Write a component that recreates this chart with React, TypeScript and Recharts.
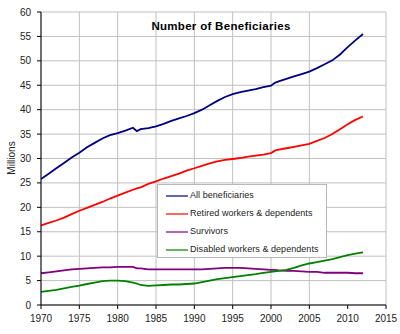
import React from 'react';
import { LineChart, Line, XAxis, YAxis, CartesianGrid, Legend } from 'recharts';

const years = [1970, 1971, 1972, 1973, 1974, 1975, 1976, 1977, 1978, 1979, 1980, 1981, 1982, 1982.5, 1983, 1984, 1985, 1986, 1987, 1988, 1989, 1990, 1991, 1992, 1993, 1994, 1995, 1996, 1997, 1998, 1999, 2000, 2000.5, 2001, 2002, 2003, 2004, 2005, 2006, 2007, 2008, 2009, 2010, 2011, 2012];
const allBeneficiaries = [25.8, 26.9, 28.0, 29.1, 30.2, 31.2, 32.3, 33.2, 34.1, 34.8, 35.2, 35.7, 36.3, 35.6, 36.0, 36.2, 36.6, 37.1, 37.7, 38.2, 38.7, 39.3, 40.0, 40.9, 41.8, 42.6, 43.2, 43.6, 43.9, 44.2, 44.6, 44.9, 45.5, 45.8, 46.3, 46.8, 47.3, 47.8, 48.5, 49.3, 50.1, 51.3, 52.8, 54.2, 55.5];
const retired = [16.3, 16.8, 17.3, 17.9, 18.6, 19.3, 19.9, 20.5, 21.1, 21.8, 22.4, 23.0, 23.6, 23.9, 24.1, 24.8, 25.3, 25.9, 26.4, 26.9, 27.5, 28.0, 28.5, 29.0, 29.4, 29.7, 29.9, 30.1, 30.4, 30.6, 30.8, 31.1, 31.6, 31.8, 32.1, 32.4, 32.7, 33.0, 33.6, 34.2, 35.0, 36.0, 37.0, 37.9, 38.6];
const survivors = [6.5, 6.7, 6.9, 7.1, 7.3, 7.4, 7.5, 7.6, 7.7, 7.7, 7.8, 7.8, 7.8, 7.5, 7.5, 7.3, 7.3, 7.3, 7.3, 7.3, 7.3, 7.3, 7.3, 7.4, 7.5, 7.6, 7.6, 7.6, 7.5, 7.4, 7.3, 7.2, 7.2, 7.1, 7.0, 7.0, 6.9, 6.8, 6.8, 6.6, 6.6, 6.6, 6.6, 6.5, 6.5];
const disabled = [2.7, 2.9, 3.1, 3.4, 3.7, 3.95, 4.3, 4.6, 4.9, 5.0, 5.0, 4.9, 4.6, 4.4, 4.1, 3.9, 4.0, 4.1, 4.2, 4.2, 4.3, 4.4, 4.7, 5.0, 5.3, 5.5, 5.7, 5.9, 6.1, 6.3, 6.6, 6.8, 6.9, 7.0, 7.2, 7.6, 8.1, 8.5, 8.8, 9.1, 9.4, 9.8, 10.2, 10.5, 10.8];

const xTicks = [1970, 1975, 1980, 1985, 1990, 1995, 2000, 2005, 2010, 2015];
const yTicks = [0, 5, 10, 15, 20, 25, 30, 35, 40, 45, 50, 55, 60];

const title = 'Number of Beneficiaries';
const yLabel = 'Millions';

const seriesNames = ['All beneficiaries', 'Retired workers & dependents', 'Survivors', 'Disabled workers & dependents'];
const seriesKeys = ['all', 'retired', 'survivors', 'disabled'];
const seriesColors = ['#000080', '#ff0000', '#800080', '#008000'];

const data = years.map((y, i) => ({
  year: y,
  all: allBeneficiaries[i],
  retired: retired[i],
  survivors: survivors[i],
  disabled: disabled[i],
}));

const FONT = '"Liberation Sans", Arial, sans-serif';

const LegendBox = () => (
  <div
    style={{
      width: 170,
      height: 74,
      boxSizing: 'border-box',
      border: '1px solid #b8b8b8',
      background: '#fff',
      fontFamily: FONT,
      fontSize: 9,
      color: '#222',
      position: 'relative',
    }}
  >
    {seriesNames.map((n, i) => (
      <div key={n} style={{ position: 'absolute', left: 0, top: 1 + i * 18.1, height: 18, width: '100%' }}>
        <svg width={24} height={4} style={{ position: 'absolute', left: 8, top: 8 }}>
          <line x1={0} y1={2} x2={22} y2={2} stroke={seriesColors[i]} strokeWidth={1.2} />
        </svg>
        <span style={{ position: 'absolute', left: 32, top: 4, whiteSpace: 'nowrap', letterSpacing: 0.05 }}>{n}</span>
      </div>
    ))}
  </div>
);

export default function App() {
  return (
    <div style={{ position: 'absolute', left: 0, top: 0, width: 400, height: 334, background: '#fff' }}>
      <LineChart width={400} height={334} data={data} margin={{ top: 12, right: 14, bottom: 0, left: 0 }}>
        <CartesianGrid stroke="#c0c0c0" strokeWidth={1} />
        <XAxis
          dataKey="year"
          type="number"
          domain={[1970, 2015]}
          ticks={xTicks}
          height={29}
          stroke="#000"
          tickSize={4}
          tickMargin={6}
          tick={{ fill: '#222', fontSize: 10, fontFamily: FONT }}
          allowDataOverflow
        />
        <YAxis
          type="number"
          domain={[0, 60]}
          ticks={yTicks}
          width={41}
          stroke="#000"
          tickSize={4}
          tickMargin={6}
          tick={{ fill: '#222', fontSize: 10, fontFamily: FONT }}
        />
        {seriesKeys.map((k, i) => (
          <Line
            key={k}
            type="linear"
            dataKey={k}
            name={seriesNames[i]}
            stroke={seriesColors[i]}
            strokeWidth={1.8}
            dot={false}
            isAnimationActive={false}
          />
        ))}
        <Legend
          layout="vertical"
          align="center"
          verticalAlign="middle"
          content={() => <LegendBox />}
          wrapperStyle={{ position: 'absolute', left: 157, top: 184, width: 170, height: 74 }}
        />
      </LineChart>
      <div
        style={{
          position: 'absolute',
          left: 121,
          width: 200,
          top: 19,
          textAlign: 'center',
          fontFamily: FONT,
          fontWeight: 'bold',
          fontSize: 11.5,
          lineHeight: '14px',
          color: '#000',
          letterSpacing: 0.3,
        }}
      >
        {title}
      </div>
      <div
        style={{
          position: 'absolute',
          left: 11,
          top: 158,
          transform: 'translate(-50%, -50%) rotate(-90deg)',
          fontFamily: FONT,
          fontSize: 10,
          color: '#222',
          whiteSpace: 'nowrap',
        }}
      >
        {yLabel}
      </div>
    </div>
  );
}
